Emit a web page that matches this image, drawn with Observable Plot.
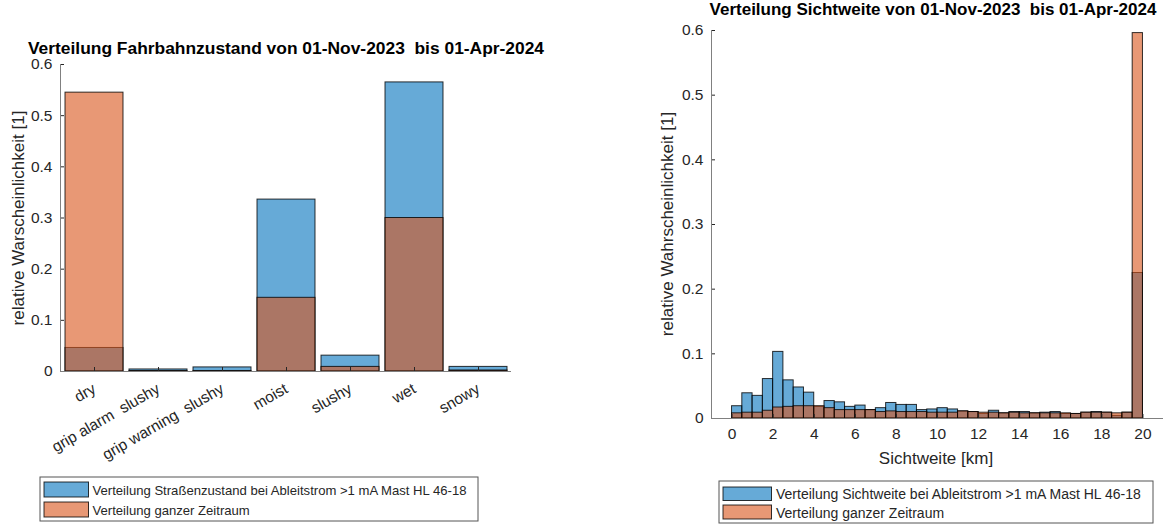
<!DOCTYPE html>
<html>
<head>
<meta charset="utf-8">
<script src="https://cdn.jsdelivr.net/npm/d3@7"></script>
<script src="https://cdn.jsdelivr.net/npm/@observablehq/plot@0.6"></script>
<style>
  html, body { margin: 0; padding: 0; background: #fff; }
  #page { position: relative; width: 1169px; height: 524px; overflow: hidden; background: #fff; }
  #page > svg.plot-left, #page > svg.plot-right { position: absolute; top: 0; }
  #overlay { position: absolute; left: 0; top: 0; pointer-events: none; }
  text { font-family: "Liberation Sans", Arial, Helvetica, sans-serif; }
</style>
</head>
<body>
<div id="page"></div>
<script>
// ---- Fahrbahnzustand (road condition) distribution ----
const roadStates = ["dry", "grip alarm  slushy", "grip warning  slushy", "moist", "slushy", "wet", "snowy"];
const roadLeak   = [0.046, 0.004, 0.008, 0.336, 0.031, 0.565, 0.009];   // bei Ableitstrom > 1 mA
const roadAll    = [0.545, 0.001, 0.001, 0.144, 0.009, 0.300, 0.002];   // ganzer Zeitraum

// ---- Sichtweite (visibility) histogram, 0.5 km bins from 0 to 20 km ----
const binWidth = 0.5;
const visLeak = [0.019, 0.039, 0.035, 0.061, 0.103, 0.059, 0.048, 0.040, 0.018, 0.027,
                 0.025, 0.018, 0.020, 0.013, 0.016, 0.024, 0.021, 0.021, 0.013, 0.014,
                 0.016, 0.014, 0.011, 0.010, 0.007, 0.012, 0.008, 0.010, 0.010, 0.008,
                 0.009, 0.010, 0.007, 0.007, 0.009, 0.010, 0.009, 0.004, 0.009, 0.225];
const visAll  = [0.008, 0.009, 0.009, 0.012, 0.017, 0.018, 0.019, 0.019, 0.019, 0.016,
                 0.013, 0.013, 0.013, 0.013, 0.010, 0.011, 0.010, 0.010, 0.010, 0.009,
                 0.009, 0.009, 0.011, 0.010, 0.009, 0.009, 0.008, 0.009, 0.008, 0.008,
                 0.008, 0.008, 0.008, 0.007, 0.009, 0.009, 0.009, 0.008, 0.009, 0.596];

const yTicks = [0, 0.1, 0.2, 0.3, 0.4, 0.5, 0.6];
const xTicksVis = [0, 2, 4, 6, 8, 10, 12, 14, 16, 18, 20];

const legendLeft  = ["Verteilung Straßenzustand bei Ableitstrom >1 mA Mast HL 46-18", "Verteilung ganzer Zeitraum"];
const legendRight = ["Verteilung Sichtweite bei Ableitstrom >1 mA Mast HL 46-18", "Verteilung ganzer Zeitraum"];

const BLUE = "#0072BD", ORANGE = "#D95319";
const AXIS = "#808080", INK = "#262626";
const FONT = '"Liberation Sans", Arial, Helvetica, sans-serif';
const fmt = d => d === 0 ? "0" : String(+d.toFixed(1));

const barStyle = {fillOpacity: 0.6, stroke: "#000", strokeOpacity: 0.8, strokeWidth: 1};

const roadTable = roadStates.map((s, i) => ({state: s, leak: roadLeak[i], all: roadAll[i]}));
const visTable = visLeak.map((v, i) => ({x1: i * binWidth, x2: (i + 1) * binWidth, leak: v, all: visAll[i]}));

const page = document.getElementById("page");

const left = Plot.plot({
  width: 560, height: 470,
  marginLeft: 60, marginRight: 49, marginTop: 64, marginBottom: 99,
  style: {fontFamily: FONT, fontSize: "15.5px", color: INK, background: "transparent", overflow: "visible"},
  x: {domain: roadStates, paddingInner: 0.1, paddingOuter: 0.05, axis: null},
  y: {domain: [0, 0.6], axis: null},
  marks: [
    Plot.barY(roadTable, {x: "state", y: "leak", fill: BLUE, ...barStyle}),
    Plot.barY(roadTable, {x: "state", y: "all", fill: ORANGE, ...barStyle}),
    Plot.axisX({tickSize: -4, tickPadding: 20, tickRotate: -30, label: null, stroke: INK, fill: INK, fontSize: 15.5}),
    Plot.axisY({ticks: yTicks, tickFormat: fmt, tickSize: -4, tickPadding: 12, label: null, stroke: INK, fill: INK, fontSize: 15.5}),
    Plot.ruleY([0], {stroke: AXIS}),
    Plot.frame({anchor: "left", stroke: AXIS})
  ]
});
left.classList.add("plot-left");
left.style.left = "0px";
page.appendChild(left);

const right = Plot.plot({
  width: 529, height: 470,
  marginLeft: 71, marginRight: 6, marginTop: 30, marginBottom: 52,
  style: {fontFamily: FONT, fontSize: "15.5px", color: INK, background: "transparent", overflow: "visible"},
  x: {domain: [-1, 21], axis: null},
  y: {domain: [0, 0.6], axis: null},
  marks: [
    Plot.rect(visTable, {x1: "x1", x2: "x2", y1: () => 0, y2: "leak", fill: BLUE, ...barStyle}),
    Plot.rect(visTable, {x1: "x1", x2: "x2", y1: () => 0, y2: "all", fill: ORANGE, ...barStyle}),
    Plot.axisX({ticks: xTicksVis, tickFormat: d => String(d), tickSize: -4, tickPadding: 13.5, label: null, stroke: INK, fill: INK, fontSize: 15.5}),
    Plot.axisY({ticks: yTicks, tickFormat: fmt, tickSize: -4, tickPadding: 12, label: null, stroke: INK, fill: INK, fontSize: 15.5}),
    Plot.ruleY([0], {stroke: AXIS}),
    Plot.ruleX([-1], {y1: 0, y2: 0.6, stroke: AXIS})
  ]
});
right.classList.add("plot-right");
right.style.left = "640px";
page.appendChild(right);

// Titles, axis labels and legends
const overlay = d3.select(page).append("svg")
  .attr("id", "overlay").attr("width", 1169).attr("height", 524);

function label(x, y, str, opts = {}) {
  const t = overlay.append("text")
    .attr("x", x).attr("y", y)
    .attr("text-anchor", opts.anchor || "middle")
    .attr("font-size", opts.size || 17)
    .attr("font-weight", opts.bold ? "bold" : "normal")
    .attr("fill", opts.fill || INK)
    .style("white-space", "pre")
    .text(str);
  if (opts.rotate) t.attr("transform", `rotate(${opts.rotate},${x},${y})`);
  return t;
}

label(286, 53.5, "Verteilung Fahrbahnzustand von 01-Nov-2023  bis 01-Apr-2024", {bold: true, fill: "#000", size: 17.4});
label(933, 15, "Verteilung Sichtweite von 01-Nov-2023  bis 01-Apr-2024", {bold: true, fill: "#000"});
label(23.5, 218, "relative Warscheinlichkeit [1]", {rotate: -90});
label(673, 224, "relative Wahrscheinlichkeit [1]", {rotate: -90});
label(936, 464, "Sichtweite [km]");

function legend(box, sw, textX, rows, entries, size) {
  overlay.append("rect")
    .attr("x", box.x).attr("y", box.y).attr("width", box.w).attr("height", box.h)
    .attr("fill", "#fff").attr("stroke", "#555").attr("stroke-width", 1);
  [BLUE, ORANGE].forEach((c, i) => {
    overlay.append("rect")
      .attr("x", sw.x).attr("y", rows[i].y).attr("width", sw.w).attr("height", rows[i].h)
      .attr("fill", c).attr("fill-opacity", 0.6).attr("stroke", "#000").attr("stroke-opacity", 0.8);
    label(textX, rows[i].base, entries[i], {anchor: "start", size});
  });
}

legend({x: 40, y: 477, w: 438, h: 44}, {x: 44, w: 44.5}, 92.5,
  [{y: 482, h: 15, base: 494.5}, {y: 502, h: 15, base: 514.5}], legendLeft, 13.1);
legend({x: 719, y: 481, w: 434, h: 42}, {x: 723, w: 48.5}, 776,
  [{y: 487, h: 13.5, base: 498.5}, {y: 505, h: 14, base: 518}], legendRight, 14);
</script>
</body>
</html>
